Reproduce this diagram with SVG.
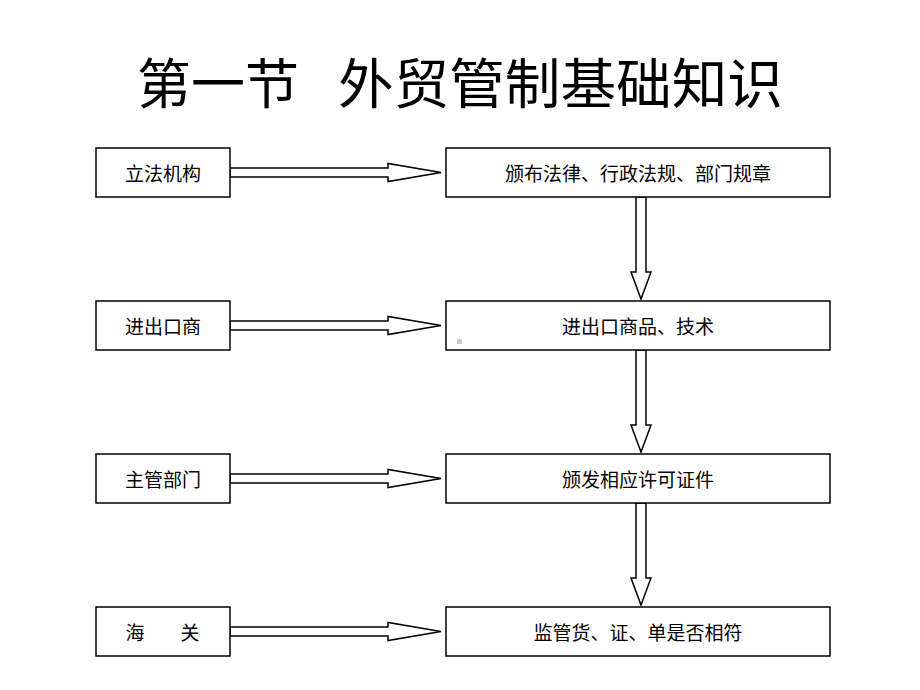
<svg xmlns="http://www.w3.org/2000/svg" xmlns:xlink="http://www.w3.org/1999/xlink" width="920" height="690" viewBox="0 0 920 690">
<style>
.box{fill:#fff;stroke:#000;stroke-width:1.5}
.arr{fill:#fff;stroke:#000;stroke-width:1.5;stroke-linejoin:miter}
.lbl{font-family:"Noto Sans CJK SC","Liberation Serif",serif;font-size:19px;fill:#000;text-anchor:middle;dominant-baseline:central}
.title{font-family:"Noto Sans CJK SC","Liberation Serif",serif;font-size:54px;fill:#000}
</style>
<defs>
<polygon id="harr" class="arr" points="230,-4.5 388,-4.5 388,-9 441,0 388,9 388,4.5 230,4.5"/>
<polygon id="varr" class="arr" points="636,0 646,0 646,75 651,75 641,102 631,75 636,75"/>
</defs>
<rect width="920" height="690" fill="#fff"/>
<g id="title">
<text class="title" x="137" y="104">第一节</text>
<text class="title" x="338" y="104" textLength="445" lengthAdjust="spacingAndGlyphs">外贸管制基础知识</text>
</g>
<g id="connectors">
<use xlink:href="#harr" transform="translate(0,172.5)"/>
<use xlink:href="#harr" transform="translate(0,325.5)"/>
<use xlink:href="#harr" transform="translate(0,478.5)"/>
<use xlink:href="#harr" transform="translate(0,631.5)"/>
<use xlink:href="#varr" transform="translate(0,197)"/>
<use xlink:href="#varr" transform="translate(0,350)"/>
<use xlink:href="#varr" transform="translate(0,503)"/>
</g>
<g id="n-lifa"><rect class="box" x="96" y="148" width="134" height="49"/><text class="lbl" x="163" y="172.5">立法机构</text></g>
<g id="n-banbu"><rect class="box" x="446" y="148" width="384" height="49"/><text class="lbl" x="638" y="172.5">颁布法律、行政法规、部门规章</text></g>
<g id="n-jinchukoushang"><rect class="box" x="96" y="301" width="134" height="49"/><text class="lbl" x="163" y="325.5">进出口商</text></g>
<g id="n-shangpin"><rect class="box" x="446" y="301" width="384" height="49"/><text class="lbl" x="638" y="325.5">进出口商品、技术</text><rect x="457" y="339" width="5" height="5" fill="#ccc"/></g>
<g id="n-zhuguan"><rect class="box" x="96" y="454" width="134" height="49"/><text class="lbl" x="163" y="478.5">主管部门</text></g>
<g id="n-xuke"><rect class="box" x="446" y="454" width="384" height="49"/><text class="lbl" x="638" y="478.5">颁发相应许可证件</text></g>
<g id="n-haiguan"><rect class="box" x="96" y="607" width="134" height="49"/><text class="lbl" x="135" y="631.5">海</text><text class="lbl" x="190" y="631.5">关</text></g>
<g id="n-jianguan"><rect class="box" x="446" y="607" width="384" height="49"/><text class="lbl" x="638" y="631.5">监管货、证、单是否相符</text></g>
</svg>
